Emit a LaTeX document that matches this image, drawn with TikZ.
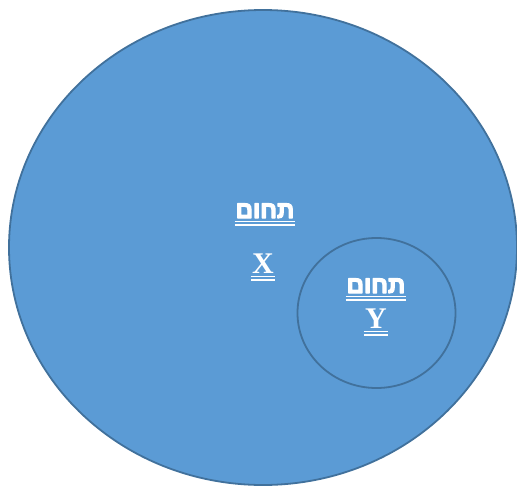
\documentclass[tikz,border=0pt]{standalone}
\usepackage{fontspec}
\usetikzlibrary{shapes.geometric}
\setmainfont{Liberation Serif}
\newfontfamily\hebfont[Script=Hebrew]{Liberation Sans Bold}
\TeXXeTstate=1
\newcommand{\thicktext}[1]{\special{pdf:code 1 j 1.1 w 2 Tr}#1\special{pdf:code 0 Tr}}
\definecolor{fillblue}{HTML}{5B9BD5}
\definecolor{edgeblue}{HTML}{41719C}
\begin{document}
\begin{tikzpicture}[x=1pt,y=-1pt,
  lbl/.style={text=white,inner sep=0pt,anchor=base,font=\bfseries\fontsize{30}{34}\selectfont},
  heb/.style={text=white,inner sep=0pt,anchor=base,font=\hebfont\fontsize{24}{28}\selectfont},
  uline/.style={draw=white,line width=1.4pt}]
\useasboundingbox (0,0) rectangle (517,485);
\node[draw=edgeblue,fill=fillblue,line width=1.8pt,ellipse,minimum width=508pt,minimum height=475pt,inner sep=0pt] (big) at (263,247.5) {};
\node[draw=edgeblue,fill=fillblue,line width=1.8pt,ellipse,minimum width=158pt,minimum height=150pt,inner sep=0pt] (small) at (376.5,313) {};
\node[heb] (hx) at (265,218) {\thicktext{\beginR תחום\endR}};
\node[lbl] (x) at (263,273) {X};
\node[heb] (hy) at (376,293) {\thicktext{\beginR תחום\endR}};
\node[lbl] (y) at (376,328) {Y};
\foreach \n in {hx,x,hy,y}{
  \draw[uline] ([xshift=-1pt,yshift=-3.5pt]\n.base west) -- ([xshift=1pt,yshift=-3.5pt]\n.base east);
  \draw[uline] ([xshift=-1pt,yshift=-7pt]\n.base west) -- ([xshift=1pt,yshift=-7pt]\n.base east);
}
\end{tikzpicture}
\end{document}
